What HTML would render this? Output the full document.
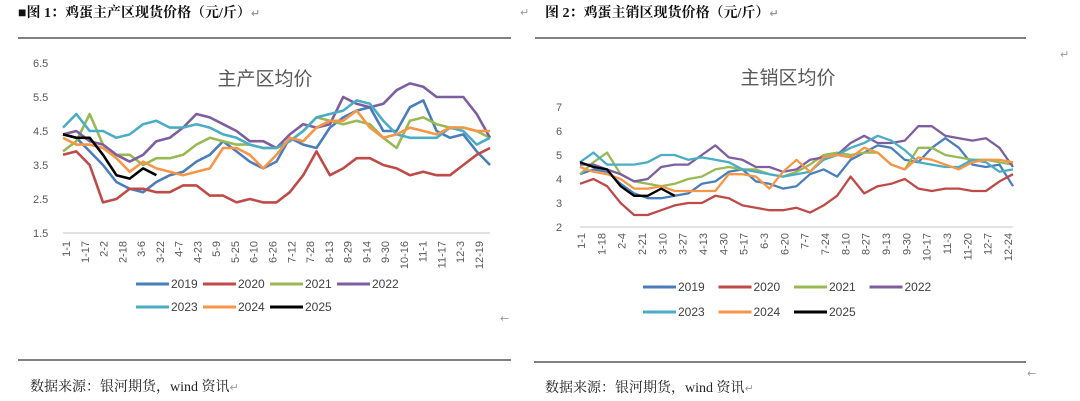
<!DOCTYPE html>
<html><head><meta charset="utf-8"><style>
body{margin:0;background:#fff;width:1080px;height:401px;overflow:hidden}
svg{display:block}
.hd{font-family:"Liberation Serif","Noto Serif CJK SC",serif;font-weight:bold;font-size:14px;fill:#111}
.ft{font-family:"Liberation Serif","Noto Serif CJK SC",serif;font-size:14px;fill:#222}
.ax{font-family:"Liberation Sans","Noto Sans CJK SC",sans-serif;font-size:11px;fill:#595959}
.tt{font-family:"Liberation Sans","Noto Sans CJK SC",sans-serif;font-size:19px;fill:#595959}
.lg{font-family:"Liberation Sans",sans-serif;font-size:12px;fill:#404040}
.rt{font-family:"DejaVu Sans",sans-serif;font-size:11px;fill:#999}
</style></head><body>
<svg id="s" width="1080" height="401" xmlns="http://www.w3.org/2000/svg">
<text class="hd" x="18" y="17">■图 1：鸡蛋主产区现货价格（元/斤）<tspan class="rt">↵</tspan></text>
<text class="hd" x="545" y="17">图 2：鸡蛋主销区现货价格（元/斤）<tspan class="rt">↵</tspan></text>
<text class="rt" x="520" y="16">↵</text>
<text class="rt" x="1060" y="58">↵</text>
<text class="rt" x="500" y="322">←</text>
<text class="rt" x="1027" y="377">←</text>
<line x1="18" y1="38" x2="511" y2="38" stroke="#808080" stroke-width="2"/>
<line x1="535" y1="38" x2="1026" y2="38" stroke="#808080" stroke-width="2"/>
<line x1="18" y1="360" x2="511" y2="360" stroke="#808080" stroke-width="2"/>
<line x1="534" y1="362" x2="1026" y2="362" stroke="#808080" stroke-width="2"/>
<text class="ft" x="30" y="391">数据来源：银河期货，wind 资讯<tspan class="rt">↵</tspan></text>
<text class="ft" x="545" y="392">数据来源：银河期货，wind 资讯<tspan class="rt">↵</tspan></text>
</svg>
<script>
const years=['2019','2020','2021','2022','2023','2024','2025'];
const colors=['#4a7ebb','#be4b48','#98b954','#7d5fa0','#4bacc6','#f79646','#000000'];
const leftTicks=[6.5,5.5,4.5,3.5,2.5,1.5];
const leftCats=['1-1','1-17','2-2','2-18','3-6','3-22','4-7','4-23','5-9','5-25','6-10','6-26','7-12','7-28','8-13','8-29','9-14','9-30','10-16','11-1','11-17','12-3','12-19'];
const L2019=[4.4,4.3,3.9,3.5,3.0,2.8,2.7,3.0,3.2,3.3,3.6,3.8,4.2,3.9,3.6,3.4,3.6,4.3,4.1,4.0,4.6,4.9,5.1,5.2,4.5,4.5,5.2,5.4,4.5,4.3,4.4,3.9,3.5];
const L2020=[3.8,3.9,3.5,2.4,2.5,2.8,2.8,2.7,2.7,2.9,2.9,2.6,2.6,2.4,2.5,2.4,2.4,2.7,3.2,3.9,3.2,3.4,3.7,3.7,3.5,3.4,3.2,3.3,3.2,3.2,3.5,3.8,4.0];
const L2021=[3.9,4.2,5.0,4.1,3.8,3.8,3.5,3.7,3.7,3.8,4.1,4.3,4.2,4.1,4.1,4.0,4.0,4.2,4.5,4.9,4.8,4.7,4.8,4.7,4.3,4.0,4.8,4.9,4.7,4.6,4.6,4.5,4.3];
const L2022=[4.4,4.5,4.2,4.1,3.8,3.6,3.8,4.2,4.3,4.6,5.0,4.9,4.7,4.5,4.2,4.2,4.0,4.4,4.7,4.6,4.7,5.5,5.3,5.2,5.3,5.7,5.9,5.8,5.5,5.5,5.5,5.0,4.3];
const L2023=[4.6,5.0,4.5,4.5,4.3,4.4,4.7,4.8,4.6,4.6,4.7,4.6,4.4,4.3,4.1,4.0,4.0,4.2,4.5,4.9,5.0,5.1,5.4,5.3,4.8,4.4,4.3,4.3,4.3,4.6,4.5,4.1,4.3];
const L2024=[4.3,4.1,4.1,4.0,3.7,3.3,3.6,3.4,3.3,3.2,3.3,3.4,4.0,4.0,3.8,3.4,3.8,4.3,4.2,4.6,4.8,4.8,5.1,4.6,4.3,4.4,4.6,4.5,4.4,4.6,4.6,4.5,4.5];
const L2025=[4.4,4.3,4.3,3.8,3.2,3.1,3.4,3.2];
const rightTicks=[7,6,5,4,3,2];
const rightCats=['1-1','1-18','2-4','2-21','3-10','3-27','4-13','4-30','5-17','6-3','6-20','7-7','7-24','8-10','8-27','9-13','9-30','10-17','11-3','11-20','12-7','12-24'];
const R2019=[4.2,4.4,4.3,3.8,3.4,3.2,3.2,3.3,3.4,3.8,3.9,4.3,4.4,3.9,3.8,3.6,3.7,4.2,4.4,4.1,4.8,5.1,5.4,5.3,4.8,4.7,5.3,5.7,5.3,4.6,4.5,4.6,3.7];
const R2020=[3.8,4.0,3.7,3.0,2.5,2.5,2.7,2.9,3.0,3.0,3.3,3.2,2.9,2.8,2.7,2.7,2.8,2.6,2.9,3.3,4.1,3.4,3.7,3.8,4.0,3.6,3.5,3.6,3.6,3.5,3.5,3.9,4.2];
const R2021=[4.2,4.7,5.1,4.2,3.9,3.8,3.7,3.8,4.0,4.1,4.4,4.5,4.4,4.4,4.2,4.1,4.3,4.6,5.0,5.1,5.0,5.1,5.1,4.6,4.4,5.3,5.3,5.0,4.9,4.8,4.8,4.7,4.6];
const R2022=[4.6,4.6,4.4,4.2,3.9,4.0,4.5,4.6,4.6,5.0,5.4,4.9,4.8,4.5,4.5,4.3,4.4,4.8,4.9,5.0,5.5,5.8,5.5,5.5,5.6,6.2,6.2,5.8,5.7,5.6,5.7,5.3,4.5];
const R2023=[4.7,5.1,4.6,4.6,4.6,4.7,5.0,5.0,4.8,4.9,4.8,4.7,4.4,4.3,4.2,4.1,4.2,4.3,4.8,5.0,5.3,5.5,5.8,5.6,5.2,4.7,4.6,4.5,4.5,4.8,4.7,4.3,4.4];
const R2024=[4.5,4.3,4.2,4.0,3.6,3.6,3.7,3.5,3.5,3.5,3.5,4.2,4.2,4.1,3.6,4.3,4.8,4.3,4.9,5.0,4.9,5.3,5.1,4.6,4.4,4.9,4.8,4.6,4.4,4.7,4.8,4.8,4.7];
const R2025=[4.7,4.5,4.4,3.7,3.3,3.3,3.6,3.3];

const NS='http://www.w3.org/2000/svg';
const svg=document.getElementById('s');
function mk(tag,attrs,parent){const e=document.createElementNS(NS,tag);for(const k in attrs)e.setAttribute(k,attrs[k]);(parent||svg).appendChild(e);return e;}

function chart(cfg){
  const g=mk('g',{});
  
  
  const y=v=>cfg.y0+(cfg.vmax-v)/(cfg.vmax-cfg.vmin)*(cfg.y1-cfg.y0);
  const n=cfg.series[0].length;
  const x=i=>cfg.x0+i*(cfg.x1-cfg.x0)/(n-1);
  const t=mk('text',{x:cfg.tx,y:cfg.ty,'text-anchor':'middle',class:'tt'},g);t.textContent=cfg.title;
  
  
  const base=mk('line',{x1:cfg.x0,x2:cfg.x1,y1:y(cfg.vmin),y2:y(cfg.vmin),stroke:'#d9d9d9','stroke-width':1.5},g);
  
  
  cfg.ticks.forEach(v=>{
    const e=mk('text',{x:cfg.lx,y:y(v)+4,class:'ax'},g);e.textContent=v;
    
    
  });
  cfg.cats.forEach((c,i)=>{
    const cx=cfg.c0+i*(cfg.c1-cfg.c0)/(cfg.cats.length-1);
    const e=mk('text',{x:0,y:0,class:'ax','text-anchor':'end',transform:`translate(${cx+4},${cfg.cy}) rotate(-90)`},g);e.textContent=c;
    
    
  });
  cfg.series.forEach((s,k)=>{
    const d=s.map((v,i)=>(i?'L':'M')+x(i).toFixed(1)+','+y(v).toFixed(1)).join('');
    const p=mk('path',{d:d,fill:'none',stroke:colors[k],'stroke-width':cfg.sw,'stroke-linejoin':'round'},g);
    
    
  });
  years.forEach((yr,k)=>{
    const r=k<4?0:1,c=k<4?k:k-4;
    const lx=cfg.lgx+c*cfg.lgdx, ly=cfg.lgy+r*cfg.lgdy;
    const l=mk('line',{x1:lx,x2:lx+33,y1:ly,y2:ly,stroke:colors[k],'stroke-width':3},g);
    
    
    const e=mk('text',{x:lx+35,y:ly+4,class:'lg'},g);e.textContent=yr;
    
    
  });
}
chart({name:'producing-area-chart',title:'主产区均价',tx:265,ty:85,x0:63,x1:490,y0:63,y1:233,vmax:6.5,vmin:1.5,ticks:leftTicks,lx:33,
  cats:leftCats,c0:66,c1:479,cy:241,series:[L2019,L2020,L2021,L2022,L2023,L2024,L2025.concat(Array(0))].map((s,i)=>s),sw:2.6,
  lgx:136,lgdx:67,lgy:284,lgdy:23});
chart({name:'consuming-area-chart',title:'主销区均价',tx:788,ty:84,x0:580,x1:1013,y0:107,y1:227,vmax:7,vmin:2,ticks:rightTicks,lx:556,
  cats:rightCats,c0:581,c1:1008,cy:233,series:[R2019,R2020,R2021,R2022,R2023,R2024,R2025],sw:2.3,
  lgx:643,lgdx:75.5,lgy:287,lgdy:25});
</script>
</body></html>
